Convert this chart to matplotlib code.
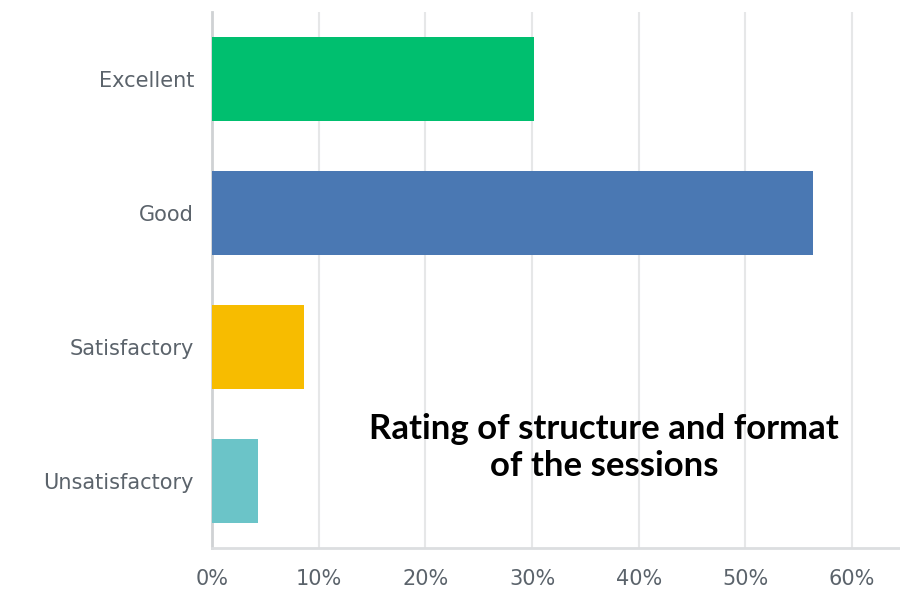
import matplotlib.pyplot as plt
from matplotlib.ticker import FuncFormatter

# Daten
categories = ["Excellent", "Good", "Satisfactory", "Unsatisfactory"]
values = [30.2, 56.3, 8.66, 4.28]
colors = ["#00bf6f", "#4a78b3", "#f7bc00", "#6bc4c8"]
ticks = [0, 10, 20, 30, 40, 50, 60]

fig = plt.figure(figsize=(9, 5.92), dpi=100)
ax = fig.add_axes([0.2356, 0.0748, 0.7644, 0.905])

ax.barh(range(len(categories)), values, height=0.625, color=colors, zorder=3)
ax.set_ylim(3.5, -0.5)
ax.set_xlim(0, 64.5)
ax.set_yticks(range(len(categories)))
ax.set_yticklabels(categories)
ax.set_xticks(ticks)
ax.xaxis.set_major_formatter(FuncFormatter(lambda v, p: f"{v:.0f}%"))

# Gitter und Achsen
ax.grid(axis="x", color="#e6e7e8", linewidth=1.5, zorder=0)
for s in ["top", "right"]:
    ax.spines[s].set_visible(False)
ax.spines["left"].set_color("#cfd2d4")
ax.spines["left"].set_linewidth(2)
ax.spines["bottom"].set_color("#dcdee0")
ax.spines["bottom"].set_linewidth(2)
ax.tick_params(axis="both", length=0, labelsize=15, labelcolor="#5b636b")
ax.tick_params(axis="y", pad=13)
ax.tick_params(axis="x", pad=15)
for lbl in ax.get_xticklabels() + ax.get_yticklabels():
    lbl.set_family("DejaVu Sans")

ax.text(0.57, 0.187, "Rating of structure and format\nof the sessions",
        transform=ax.transAxes, ha="center", va="center", fontsize=25,
        fontweight="bold", family="Lato", linespacing=1.22, zorder=5)

fig.savefig("out.png", dpi=100)
